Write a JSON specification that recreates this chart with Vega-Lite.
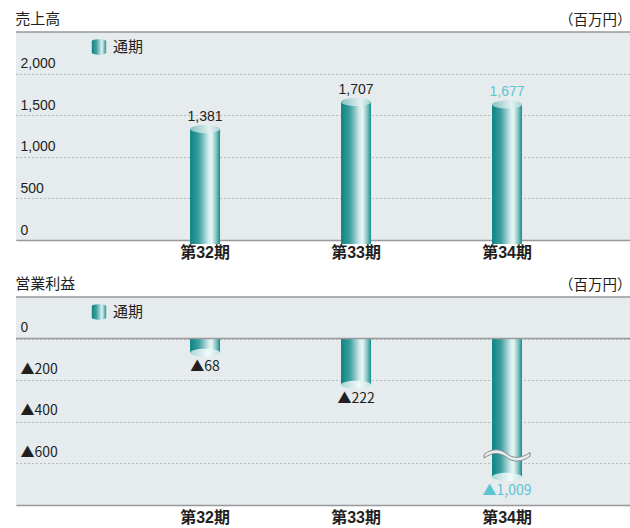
{
  "$schema": "https://vega.github.io/schema/vega-lite/v6.json",
  "padding": {"left": 15, "right": 0, "top": 12, "bottom": 0},
  "background": "white",
  "config": {
    "font": "Liberation Sans, Noto Sans CJK JP, sans-serif",
    "view": {"fill": "#e6ebee", "stroke": null},
    "title": {"anchor": "start", "fontSize": 15, "fontWeight": "normal", "color": "#231f20", "baseline": "alphabetic", "offset": -15},
    "concat": {"spacing": 17}
  },
  "datasets": {
    "sales": [
      {"period": "第32期", "value": 1381},
      {"period": "第33期", "value": 1707},
      {"period": "第34期", "value": 1677}
    ],
    "income": [
      {"period": "第32期", "value": -68, "drawn": -68, "label": "▲68"},
      {"period": "第33期", "value": -222, "drawn": -222, "label": "▲222"},
      {"period": "第34期", "value": -1009, "drawn": -665, "label": "▲1,009"}
    ]
  },
  "vconcat": [
    {
      "width": 615,
      "height": 208,
      "title": {"text": "売上高", "fontSize": 15},
      "data": {"name": "sales"},
      "layer": [
        {
          "mark": {
            "type": "bar", "width": 30, "yOffset": 4,
            "fill": {"gradient": "linear", "x1": 0, "y1": 0, "x2": 1, "y2": 0, "stops": [
              {"offset": 0, "color": "#0b8383"}, {"offset": 0.3, "color": "#3f9fa0"},
              {"offset": 0.62, "color": "#d5ecec"}, {"offset": 0.72, "color": "#e8f5f5"},
              {"offset": 0.9, "color": "#6fb8b8"}, {"offset": 1, "color": "#138a8a"}]}
          },
          "encoding": {
            "x": {
              "field": "period", "type": "nominal", "sort": null,
              "scale": {"paddingInner": 0.801, "paddingOuter": 0.937, "align": 0.615},
              "axis": {"title": null, "labelAngle": 0, "labelFontSize": 16, "labelFontWeight": "bold", "labelColor": "#231f20",
                       "ticks": false, "labelPadding": 4, "domainColor": "#999999", "domainWidth": 1.5, "grid": false}
            },
            "y": {
              "field": "value", "type": "quantitative",
              "scale": {"domain": [0, 2500], "nice": false},
              "axis": {
                "values": [0, 500, 1000, 1500, 2000], "format": ",d",
                "labelAlign": "left", "labelBaseline": "alphabetic", "labelPadding": -4, "labelOffset": -6,
                "ticks": false, "tickSize": 0, "domain": false,
                "grid": true, "gridDash": [1, 3], "gridColor": "#8a8a8a", "gridWidth": 1,
                "labelFontSize": 14, "labelColor": "#231f20",
                "title": "（百万円）", "titleAngle": 0, "titleAlign": "right", "titleBaseline": "alphabetic",
                "titleX": 615, "titleY": -8, "titleFontSize": 14.5, "titleFontWeight": "normal", "titleColor": "#231f20"
              }
            }
          }
        },
        {
          "mark": {
            "type": "point", "shape": "M-1,0A1,0.27,0,1,1,1,0A1,0.27,0,1,1,-1,0Z", "size": 900,
            "filled": true, "opacity": 1, "strokeWidth": 0, "yOffset": 4,
            "fill": {"gradient": "linear", "x1": 0, "y1": 0, "x2": 1, "y2": 0, "stops": [
              {"offset": 0, "color": "#86bfc0"}, {"offset": 0.65, "color": "#e3f1f1"}, {"offset": 1, "color": "#a6d1d1"}]}
          },
          "encoding": {
            "x": {"field": "period", "type": "nominal", "sort": null},
            "y": {"field": "value", "type": "quantitative"}
          }
        },
        {
          "mark": {"type": "text", "dy": -4, "baseline": "alphabetic", "fontSize": 14},
          "encoding": {
            "x": {"field": "period", "type": "nominal", "sort": null},
            "y": {"field": "value", "type": "quantitative"},
            "text": {"field": "value", "type": "quantitative", "format": ",d"},
            "color": {"condition": {"test": "datum.period === '第34期'", "value": "#5bc5d1"}, "value": "#231f20"}
          }
        },
        {
          "mark": {
            "type": "point", "size": 0, "opacity": 1, "filled": true, "strokeWidth": 0,
            "fill": {"gradient": "linear", "x1": 0, "y1": 0, "x2": 1, "y2": 0, "stops": [
              {"offset": 0, "color": "#0b8383"}, {"offset": 0.35, "color": "#4aa5a6"},
              {"offset": 0.7, "color": "#e0f1f1"}, {"offset": 1, "color": "#2a9494"}]}
          },
          "encoding": {
            "x": {"field": "period", "type": "nominal", "sort": null},
            "y": {"field": "value", "type": "quantitative"},
            "shape": {
              "datum": "通期", "type": "nominal",
              "scale": {"range": ["M-0.9,-0.72A0.9,0.24,0,0,1,0.9,-0.72L0.9,0.72A0.9,0.24,0,0,1,-0.9,0.72Z"]},
              "legend": {
                "orient": "none", "legendX": 75, "legendY": 7, "title": null, "padding": 0,
                "labelFontSize": 15, "labelColor": "#231f20", "labelOffset": 6,
                "symbolSize": 256, "symbolStrokeWidth": 0, "symbolOpacity": 1
              }
            }
          }
        },
        {
          "data": {"values": [{}]},
          "mark": {"type": "rule", "color": "#999999", "strokeWidth": 1.5},
          "encoding": {"y": {"datum": 2500, "type": "quantitative"}}
        }
      ]
    },
    {
      "width": 615,
      "height": 208,
      "title": {"text": "営業利益", "fontSize": 15},
      "data": {"name": "income"},
      "layer": [
        {
          "mark": {
            "type": "bar", "width": 30,
            "fill": {"gradient": "linear", "x1": 0, "y1": 0, "x2": 1, "y2": 0, "stops": [
              {"offset": 0, "color": "#0b8383"}, {"offset": 0.3, "color": "#3f9fa0"},
              {"offset": 0.62, "color": "#d5ecec"}, {"offset": 0.72, "color": "#e8f5f5"},
              {"offset": 0.9, "color": "#6fb8b8"}, {"offset": 1, "color": "#138a8a"}]}
          },
          "encoding": {
            "x": {
              "field": "period", "type": "nominal", "sort": null,
              "scale": {"paddingInner": 0.801, "paddingOuter": 0.937, "align": 0.615},
              "axis": {"title": null, "labelAngle": 0, "labelFontSize": 16, "labelFontWeight": "bold", "labelColor": "#231f20",
                       "ticks": false, "labelPadding": 4, "domainColor": "#999999", "domainWidth": 1.5, "grid": false}
            },
            "y": {
              "field": "drawn", "type": "quantitative",
              "scale": {"domain": [-800, 200], "nice": false},
              "axis": {
                "values": [0, -200, -400, -600],
                "labelExpr": "datum.value < 0 ? '▲' + format(-datum.value, ',d') : '0'",
                "labelAlign": "left", "labelBaseline": "alphabetic", "labelPadding": -4, "labelOffset": -7,
                "labelFont": "Noto Sans CJK JP",
                "ticks": false, "tickSize": 0, "domain": false,
                "grid": true, "gridDash": [1, 3], "gridColor": "#8a8a8a", "gridWidth": 1,
                "labelFontSize": 14, "labelColor": "#231f20",
                "title": "（百万円）", "titleAngle": 0, "titleAlign": "right", "titleBaseline": "alphabetic",
                "titleX": 615, "titleY": -8, "titleFontSize": 14.5, "titleFontWeight": "normal", "titleColor": "#231f20"
              }
            }
          }
        },
        {
          "mark": {
            "type": "point", "shape": "M-1,0A1,0.27,0,1,1,1,0A1,0.27,0,1,1,-1,0Z", "size": 900,
            "filled": true, "opacity": 1, "strokeWidth": 0,
            "fill": {"gradient": "linear", "x1": 0, "y1": 0, "x2": 1, "y2": 0, "stops": [
              {"offset": 0, "color": "#a9d6d6"}, {"offset": 0.6, "color": "#f2fafa"}, {"offset": 1, "color": "#c4e3e3"}]}
          },
          "encoding": {
            "x": {"field": "period", "type": "nominal", "sort": null},
            "y": {"field": "drawn", "type": "quantitative"}
          }
        },
        {
          "transform": [{"filter": "datum.drawn !== datum.value"}],
          "mark": {
            "type": "point",
            "shape": "M-1,0.02C-0.6,-0.28,-0.25,-0.2,0,0C0.25,0.2,0.6,0.22,1,-0.06L1,0.1C0.6,0.38,0.25,0.36,0,0.16C-0.25,-0.04,-0.6,-0.12,-1,0.18Z",
            "size": 2116, "filled": true, "opacity": 1, "fill": "#e8eef0", "stroke": "#8a8a8a", "strokeWidth": 1, "yOffset": -23
          },
          "encoding": {
            "x": {"field": "period", "type": "nominal", "sort": null},
            "y": {"field": "drawn", "type": "quantitative"}
          }
        },
        {
          "mark": {"type": "text", "dy": 7, "baseline": "top", "fontSize": 14, "font": "Noto Sans CJK JP"},
          "encoding": {
            "x": {"field": "period", "type": "nominal", "sort": null},
            "y": {"field": "drawn", "type": "quantitative"},
            "text": {"field": "label", "type": "nominal"},
            "color": {"condition": {"test": "datum.period === '第34期'", "value": "#5bc5d1"}, "value": "#231f20"}
          }
        },
        {
          "mark": {
            "type": "point", "size": 0, "opacity": 1, "filled": true, "strokeWidth": 0,
            "fill": {"gradient": "linear", "x1": 0, "y1": 0, "x2": 1, "y2": 0, "stops": [
              {"offset": 0, "color": "#0b8383"}, {"offset": 0.35, "color": "#4aa5a6"},
              {"offset": 0.7, "color": "#e0f1f1"}, {"offset": 1, "color": "#2a9494"}]}
          },
          "encoding": {
            "x": {"field": "period", "type": "nominal", "sort": null},
            "y": {"field": "drawn", "type": "quantitative"},
            "shape": {
              "datum": "通期", "type": "nominal",
              "scale": {"range": ["M-0.9,-0.72A0.9,0.24,0,0,1,0.9,-0.72L0.9,0.72A0.9,0.24,0,0,1,-0.9,0.72Z"]},
              "legend": {
                "orient": "none", "legendX": 75, "legendY": 7, "title": null, "padding": 0,
                "labelFontSize": 15, "labelColor": "#231f20", "labelOffset": 6,
                "symbolSize": 256, "symbolStrokeWidth": 0, "symbolOpacity": 1
              }
            }
          }
        },
        {
          "data": {"values": [{}]},
          "mark": {"type": "rule", "color": "#999999", "strokeWidth": 1.5},
          "encoding": {"y": {"datum": 200, "type": "quantitative"}}
        },
        {
          "data": {"values": [{}]},
          "mark": {"type": "rule", "color": "#999999", "strokeWidth": 1.5},
          "encoding": {"y": {"datum": 0, "type": "quantitative"}}
        }
      ]
    }
  ],
  "resolve": {"scale": {"shape": "independent"}, "legend": {"shape": "independent"}}
}
